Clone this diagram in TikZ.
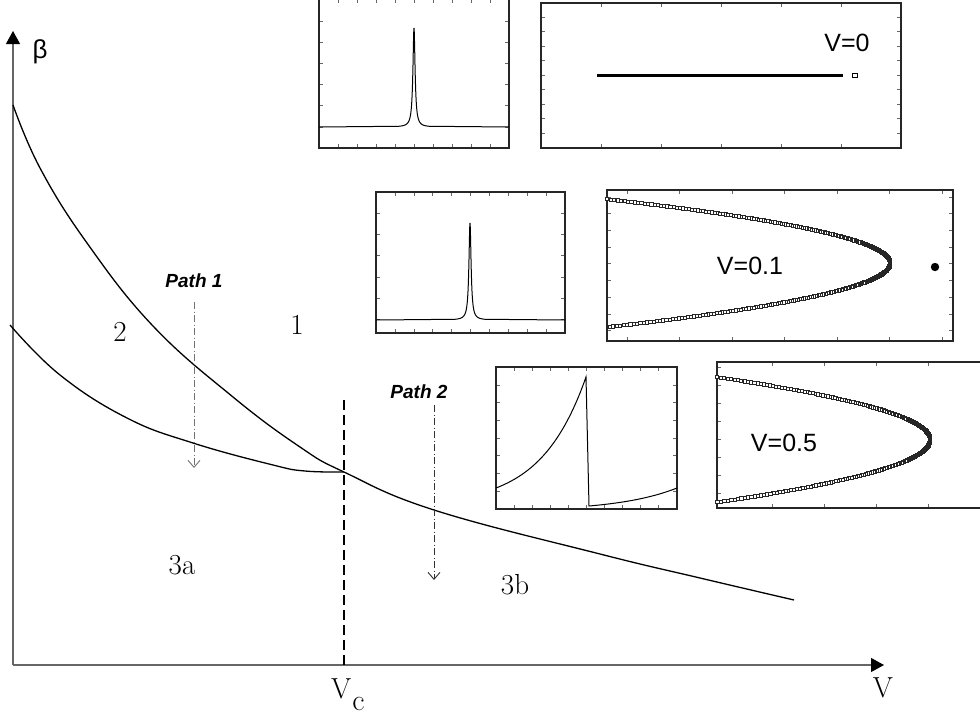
\documentclass[tikz,border=0pt]{standalone}
\usepackage{fontspec}
\newfontfamily\helv{Liberation Sans}
\usepackage{tikz}
\usetikzlibrary{arrows.meta}

% frame of an inset plot with inward ticks: x1 y1 x2 y2, first two x ticks, first two y ticks
\newcommand\insetbox[8]{%
  \foreach \t in {#5,#6,...,#3} {
    \draw[tickmark] (\t,#2) -- ++(0,4);
    \draw[tickmark] (\t,#4) -- ++(0,-4);
  }
  \foreach \t in {#7,#8,...,#4} {
    \draw[tickmark] (#1,\t) -- ++(4,0);
    \draw[tickmark] (#3,\t) -- ++(-4,0);
  }
  \draw[insetframe] (#1,#2) rectangle (#3,#4);
}

\begin{document}
\begin{tikzpicture}[x=1pt,y=-1pt,
    axis/.style={black!60,line width=1.1pt,-{Triangle[length=13pt,width=14pt,color=black]}},
    boundary/.style={black,line width=1.3pt},
    pathline/.style={black!55,line width=0.9pt,dash pattern=on 7pt off 2.5pt on 1pt off 2.5pt,
      -{Straight Barb[length=7pt,width=12pt]}},
    region/.style={font=\fontsize{29}{31}\selectfont},
    pathlabel/.style={font=\helv\bfseries\itshape\fontsize{19}{21}\selectfont},
    vlabel/.style={font=\helv\fontsize{25}{28}\selectfont},
    insetframe/.style={black!85,line width=1.4pt},
    tickmark/.style={black!60,line width=0.8pt},
    trace/.style={black,line width=1pt},
    orbitmark/.style={draw=black!85,fill=white,line width=0.5pt}]
  \useasboundingbox (0,0) rectangle (980,715);
  \clip (0,0) rectangle (980,715);

  % axes
  \coordinate (origin) at (13,665);
  \coordinate (ytip) at (13,31);
  \coordinate (xtip) at (884,665);
  \draw[axis] (origin) -- (ytip);
  \draw[axis] (origin) -- (xtip);
  \node[font=\helv\fontsize{26}{28}\selectfont] (betalab) at (40,52) {β};
  \node[region] (vlab) at (883,688) {V};
  \node[region,anchor=base west,inner sep=0pt] (vclab) at (331,698) {V\hspace{1pt}\raisebox{-12pt}{\fontsize{30}{32}\selectfont c}};

  % phase boundaries
  \draw[boundary] plot[smooth,tension=0.7] coordinates {(13,105) (40,168) (87,243)
    (153,326) (233,397) (300,447) (344,472) (434,510) (600,554) (700,578) (794,600)};
  \draw[boundary] plot[smooth,tension=0.7] coordinates {(10,325) (60,375) (127,418)
    (193,443) (273,465) (305,471) (344,472)};

  % critical velocity
  \coordinate (vctop) at (344,400);
  \coordinate (vcfoot) at (344,665);
  \draw[line width=2.4pt,dash pattern=on 10pt off 5pt] (vctop) -- (vcfoot);

  % regions
  \node[region] (r1) at (297,325) {1};
  \node[region] (r2) at (120,332) {2};
  \node[region] (r3a) at (182,565) {3a};
  \node[region] (r3b) at (515,585) {3b};

  % paths
  \node[pathlabel] (p1lab) at (194,281) {Path 1};
  \coordinate (p1top) at (194,302);
  \coordinate (p1end) at (194,468);
  \draw[pathline] (p1top) -- (p1end);
  \node[pathlabel] (p2lab) at (419,392) {Path 2};
  \coordinate (p2top) at (434,405);
  \coordinate (p2end) at (434,580);
  \draw[pathline,black!80] (p2top) -- (p2end);

  % insets, V=0
  \insetbox{319}{-1.5}{509}{148}{338}{357}{21}{42.2}
  \draw[trace] (319,127) -- plot[domain=399:429,samples=151] (\x,{127-99/(1+((\x-414)/1.3)^2)}) -- (509,127);
  \insetbox{541}{3}{901}{148}{601}{661}{17}{31.5}
  \draw[line width=3pt] (597,75) -- (843,75);
  \draw[line width=0.7pt] (852,73.5) rectangle (857,77);
  \node[vlabel] (v0) at (847,43) {V=0};

  % insets, V=0.1
  \insetbox{376}{192}{565}{333}{395}{413.9}{213}{234.3}
  \draw[trace] (376,320) -- plot[domain=455:485,samples=151] (\x,{320-97/(1+((\x-470)/1.3)^2)}) -- (565,320);
  \insetbox{607}{190}{953}{341}{627}{679.5}{197}{213.7}
  \foreach \s in {-1,-0.99375,...,1}
    \draw[orbitmark] ({890-283*\s*\s},{263+64*\s}) ++(-1.6,-1.6) rectangle ++(3.2,3.2);
  \fill (935,267) circle (4.2pt);
  \node[vlabel] (v1) at (750,266) {V=0.1};

  % insets, V=0.5
  \insetbox{496}{367}{677}{509}{514}{532}{385}{402.7}
  \draw[trace] plot[domain=496:586,samples=60] (\x,{488-111*(exp(2*(\x-496)/90)-1)/(exp(2)-1)})
    -- (589,506) -- plot[domain=589:677,samples=40] (\x,{506-18*(exp(1.5*(\x-589)/88)-1)/(exp(1.5)-1)});
  \insetbox{717}{362}{986}{508}{772}{824}{367}{385}
  \foreach \s in {-1,-0.99167,...,1}
    \draw[orbitmark] ({930-213*\s*\s},{439.5+62.5*\s}) ++(-1.6,-1.6) rectangle ++(3.2,3.2);
  \node[vlabel] (v5) at (784,443) {V=0.5};
\end{tikzpicture}
\end{document}
